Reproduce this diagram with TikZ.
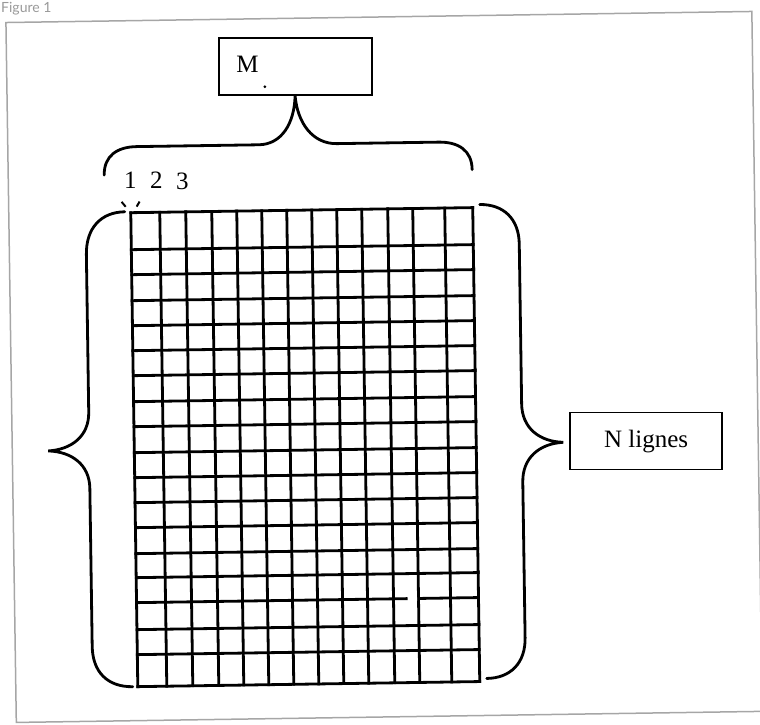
\documentclass[tikz,border=0pt]{standalone}
\usepackage{fontspec}
\usepackage{xcolor}
\setmainfont{Liberation Serif}
\newfontfamily\figfont{Lato}

\begin{document}
\begin{tikzpicture}[x=1pt, y=-1pt,
        cadre/.style={draw, line width=1.8pt, minimum width=153pt, minimum height=57pt, inner sep=0pt},
        accolade/.style={line width=2.8pt, line cap=round},
        grille/.style={line width=2.8pt, line cap=rect},
        etiquette/.style={inner sep=0pt, font=\fontsize{25}{30}\selectfont}]
    \useasboundingbox (0, 0) rectangle (760, 724);
    \node[anchor=base west, inner sep=0pt, text=gray!80, font=\figfont\fontsize{14}{16}\selectfont] (titre) at (1, 12.5) {Figure 1};
    \begin{scope}[rotate around={0.85:(380, 362)}]
        \draw[gray!70, line width=1.5pt] (11, 17) rectangle (757, 717);
        \node[cadre] (mbox) at (299.5, 65) {};
        \node[etiquette, anchor=base west] (mlabel) at (240.5, 70.5) {M};
        \fill (269, 85) circle[radius=1.5];
        \node[cadre, minimum width=152pt, etiquette] (nbox) at (645, 445) {N lignes};
        \foreach \i/\x/\y in {1/133/185, 2/159/185.5, 3/185/186.5} {
            \node[etiquette, anchor=base] (col\i) at (\x, \y) {\i};
        }
        \draw[line width=2pt] (124, 198) -- (128, 203);
        \draw[line width=2pt] (142, 198) -- (139, 203);
        \foreach \x in {133, 162, 188, 214, 239, 264, 289, 314, 339, 364, 390, 415, 447, 475} {
            \draw[grille] (\x, 209) -- (\x, 683);
        }
        \foreach \y in {209, 246, 271, 297, 322, 347, 372, 398, 423, 449, 474, 499, 524, 550, 574, 599, 626, 651, 683} {
            \draw[grille] (133, \y) -- (475, \y);
        }
        \fill[white] (404, 596.5) rectangle (413.5, 601.5);
        \draw[accolade] (107, 171) .. controls (107, 152) and (120, 143) .. (140, 143) -- (262, 143)
            .. controls (285, 143) and (298, 122) .. (mbox.south)
            .. controls (301, 122) and (316, 143) .. (340, 143) -- (442, 143)
            .. controls (462, 143) and (475, 152) .. (475, 171);
        \draw[accolade] (127, 208) .. controls (103, 208) and (88, 224) .. (88, 250) -- (88, 408)
            .. controls (88, 432) and (70, 445) .. (47, 446)
            .. controls (70, 447) and (88, 460) .. (88, 484) -- (88, 642)
            .. controls (88, 668) and (103, 683) .. (128, 683);
        \draw[accolade] (482, 206) .. controls (506, 206) and (521, 221) .. (521, 246) -- (521, 406)
            .. controls (521, 430) and (538, 444) .. (562, 445)
            .. controls (538, 446) and (521, 460) .. (521, 484) -- (521, 640)
            .. controls (521, 665) and (506, 680) .. (482, 680);
    \end{scope}
\end{tikzpicture}
\end{document}
